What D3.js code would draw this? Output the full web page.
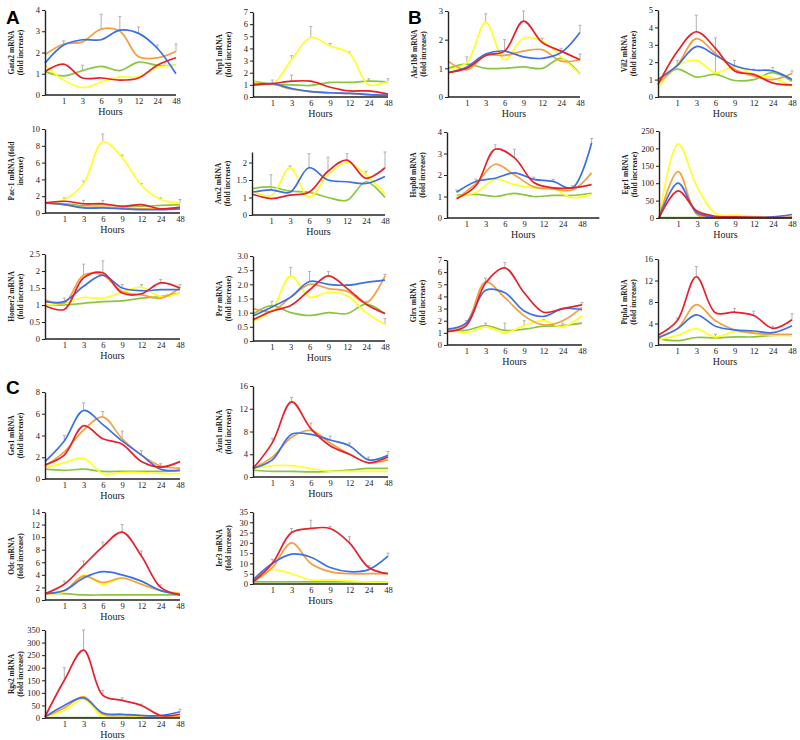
<!DOCTYPE html>
<html><head><meta charset="utf-8">
<script src="https://cdn.jsdelivr.net/npm/d3@7"></script>
<style>body{margin:0;background:#fff}svg{display:block}</style>
</head><body>
<script>
const HOURS = ["0","1","3","6","9","12","24","48"];
const COLORS = {green:"#8cc63f", yellow:"#ffff26", orange:"#f4a040", blue:"#3d6fe6", red:"#e8202a"};
const ORDER = ["green","yellow","orange","blue","red"];

// ---- data (fold increase at 0,1,3,6,9,12,24,48 h) ----
// error bars: [hour, from, to]
const gata2 = {
  green:[1.1,0.9,1.15,1.35,1.15,1.55,1.4,1.4], yellow:[1.4,0.7,0.35,0.6,0.85,0.85,1.3,1.4],
  orange:[1.9,2.4,2.5,3.1,3.0,1.8,1.75,2.05], blue:[1.5,2.35,2.6,2.6,3.05,2.9,2.2,1.0],
  red:[1.1,1.45,0.8,0.8,0.7,0.8,1.4,1.75]};
const gata2Err = [[1,2.4,2.55],[3,1.15,1.4],[6,3.1,3.8],[9,3.05,3.7],[12,2.9,3.2],[24,2.2,2.35],[48,2.05,2.4]];
const nrp1 = {
  green:[1.3,1.05,1.0,0.95,1.2,1.2,1.3,1.25], yellow:[1.3,1.05,3.1,4.9,4.2,3.6,1.0,1.3],
  orange:[1.1,1.05,0.65,0.45,0.35,0.3,0.2,0.15], blue:[1.0,1.1,0.7,0.45,0.35,0.3,0.2,0.15],
  red:[1.0,1.1,1.3,1.3,0.8,0.5,0.5,0.25]};
const nrp1Err = [[1,1.1,1.4],[3,3.1,3.4],[3,1.3,1.8],[6,4.9,5.8],[9,4.2,4.4],[12,3.6,3.7],[24,1.3,1.5],[48,1.3,1.5]];
const akr1b8 = {
  green:[1.0,1.15,1.0,1.0,1.05,1.0,1.35,0.8], yellow:[0.95,1.2,2.6,1.3,2.05,1.95,1.4,0.8],
  orange:[1.25,0.95,1.45,1.45,1.6,1.65,1.25,1.3], blue:[0.85,1.05,1.5,1.6,1.4,1.35,1.55,2.25],
  red:[0.85,1.0,1.45,1.6,2.65,1.9,1.6,1.3]};
const akr1b8Err = [[1,1.2,1.4],[3,2.6,2.9],[6,1.6,2.0],[9,2.65,3.0],[12,1.95,2.05],[24,1.55,1.7],[48,2.25,2.5],[48,1.3,1.5]];
const vil2 = {
  green:[1.0,1.6,1.15,1.3,0.95,1.0,1.4,0.9], yellow:[0.5,1.8,2.1,1.4,1.75,1.3,1.1,0.6],
  orange:[0.8,1.8,3.35,2.5,1.6,1.2,1.0,1.35], blue:[1.0,1.8,2.9,2.4,1.8,1.55,1.5,1.0],
  red:[0.7,2.6,3.75,2.8,1.5,1.3,0.8,0.7]};
const vil2Err = [[1,1.8,2.1],[3,3.75,4.7],[6,1.4,3.4],[9,1.8,2.1],[12,1.55,1.6],[24,1.5,1.7],[48,1.35,1.5]];
const pac1 = {
  green:[1.2,1.1,0.9,1.0,0.8,0.8,0.9,1.0], yellow:[1.2,1.6,3.5,8.5,6.6,3.3,1.6,1.2],
  orange:[1.2,1.0,0.7,0.7,0.6,0.5,0.5,0.6], blue:[1.2,1.0,0.6,0.6,0.5,0.4,0.4,0.5],
  red:[1.2,1.4,1.1,1.1,0.8,1.0,0.5,0.7]};
const pac1Err = [[1,1.6,1.8],[3,3.5,3.8],[3,1.1,1.5],[6,8.5,9.4],[6,1.1,1.5],[9,6.6,6.9],[12,3.3,3.5],[24,1.6,1.8],[48,1.2,1.6]];
const anx2 = {
  green:[1.25,1.3,1.18,1.15,1.0,0.92,1.45,1.0], yellow:[1.2,1.05,1.85,1.0,1.65,2.0,1.65,1.1],
  blue:[1.15,1.22,1.15,1.85,1.5,1.45,1.4,1.6], red:[1.1,0.97,1.07,1.15,1.75,2.07,1.55,1.85]};
const anx2Err = [[1,1.22,1.65],[3,1.85,1.9],[6,1.85,2.25],[9,1.75,2.15],[12,2.07,2.25],[24,1.65,1.75],[48,1.85,2.3]];
const hspb8 = {
  green:[1.05,1.1,1.0,1.15,1.0,1.05,1.05,1.15], yellow:[1.0,1.2,1.8,1.55,1.4,1.35,0.95,1.1],
  orange:[0.9,1.6,2.5,2.0,1.45,1.35,1.3,2.1], blue:[1.2,1.7,1.85,2.1,1.8,1.7,1.4,3.5],
  red:[0.9,1.5,3.2,2.8,1.65,1.4,1.4,1.55]};
const hspb8Err = [[0,1.2,1.3],[1,1.7,1.8],[3,3.2,3.4],[6,2.8,3.2],[9,1.8,1.9],[12,1.7,1.8],[24,1.4,1.5],[48,3.5,3.7]];
const egr1 = {
  green:[1,1,1,1,1,1,1,1], yellow:[0,213,90,12,8,5,2,0],
  orange:[0,133,10,0,0,0,0,0], blue:[0,100,15,3,2,2,3,10],
  red:[0,78,20,5,3,2,1,2]};
const egr1Err = [];
const homer2 = {
  green:[1.0,1.0,1.05,1.1,1.12,1.2,1.25,1.35], yellow:[1.0,1.05,1.22,1.2,1.38,1.52,1.25,1.35],
  orange:[1.15,1.05,1.88,1.88,1.4,1.3,1.2,1.5], blue:[1.1,1.1,1.55,1.88,1.5,1.42,1.45,1.45],
  red:[0.98,0.87,1.8,1.95,1.35,1.33,1.65,1.5]};
const homer2Err = [[1,1.1,1.2],[3,1.88,2.2],[6,1.95,2.3],[9,1.5,1.6],[12,1.52,1.6],[24,1.65,1.75],[48,1.5,1.6]];
const per = {
  green:[0.95,1.25,1.0,0.9,1.0,0.97,1.3,0.95], yellow:[0.7,1.1,2.3,1.55,1.72,1.6,1.0,0.58],
  orange:[1.15,1.05,1.55,2.0,1.85,1.75,1.35,2.3], blue:[0.88,1.2,1.55,2.1,2.0,1.97,2.07,2.15],
  red:[0.75,1.05,1.25,1.8,2.3,1.85,1.3,0.97]};
const perErr = [[1,1.25,1.4],[3,2.3,2.6],[6,2.1,2.45],[9,2.3,2.45],[12,1.97,2.0],[24,1.35,1.4],[48,2.3,2.35],[48,0.58,0.8]];
const glrx = {
  green:[1.2,1.2,1.6,1.2,1.3,1.55,1.6,1.8], yellow:[1.4,1.0,1.5,1.0,1.6,2.0,1.5,2.4],
  orange:[1.2,1.8,5.2,3.9,2.4,1.65,2.0,3.1], blue:[1.3,1.8,4.5,4.3,2.8,2.35,3.0,2.9],
  red:[1.1,1.6,5.1,6.35,4.3,2.7,3.0,3.3]};
const glrxErr = [[1,1.8,2.0],[3,5.2,5.5],[3,1.6,1.8],[6,6.35,6.8],[6,1.2,1.8],[9,1.6,2.0],[12,2.0,2.1],[24,1.6,1.8],[48,3.3,3.5]];
const ptpla1 = {
  green:[1.2,0.8,1.4,1.3,1.5,1.5,1.8,1.8], yellow:[1.0,1.8,3.0,1.5,2.5,2.2,1.8,1.8],
  orange:[1.5,3.0,7.5,4.5,2.8,2.2,2.0,2.0], blue:[1.3,3.0,5.6,3.5,2.8,2.6,2.3,3.6],
  red:[1.8,4.5,12.7,6.0,6.1,5.5,3.1,4.7]};
const ptpla1Err = [[1,4.5,5.0],[3,12.7,14.6],[6,1.5,2.0],[9,6.1,6.8],[12,5.5,6.3],[24,3.1,3.5],[48,4.7,5.8]];
const ges1 = {
  green:[0.9,0.8,0.9,0.7,0.7,0.7,0.7,0.8], yellow:[1.0,1.5,1.9,0.5,0.6,0.6,0.5,0.5],
  orange:[1.2,2.5,4.5,5.7,3.7,2.2,1.2,1.0], blue:[1.6,3.5,6.3,5.0,3.5,2.2,0.9,0.8],
  red:[1.3,2.2,4.9,3.7,3.2,1.6,1.1,1.6]};
const ges1Err = [[1,3.5,4.0],[3,6.3,7.0],[6,5.7,6.2],[9,3.7,4.4],[12,2.2,2.6],[24,1.2,1.4]];
const azin1 = {
  green:[1.2,1.0,1.0,0.9,1.0,1.2,1.5,1.5], yellow:[1.5,2.0,2.0,1.5,1.0,1.0,1.0,1.0],
  orange:[1.5,3.5,7.0,8.2,6.0,4.0,2.5,3.0], blue:[1.5,3.0,7.5,7.5,6.5,5.5,3.0,3.8],
  red:[1.5,6.0,13.2,8.5,5.5,4.0,2.5,3.5]};
const azin1Err = [[1,6.0,6.8],[3,13.2,14.0],[6,8.5,9.5],[9,6.5,7.2],[12,5.5,6.0],[24,3.0,3.5],[48,3.8,4.5]];
const odc = {
  green:[1.0,1.0,0.8,0.8,0.8,0.8,0.8,0.8], yellow:[1.0,1.3,4.0,2.5,3.5,2.5,1.5,1.0],
  orange:[1.0,1.5,3.8,2.8,3.5,2.5,1.5,1.0], blue:[1.0,1.5,3.5,4.5,4.0,3.0,1.5,0.9],
  red:[1.0,2.5,5.5,8.5,10.8,7.0,2.0,0.8]};
const odcErr = [[1,2.5,3.0],[3,5.5,6.2],[6,8.5,9.2],[9,10.8,12.0],[12,7.0,7.8],[24,2.0,2.4]];
const ier3 = {
  green:[1,1,1,1,1,1,1,1], yellow:[2,7,5,2,2,1.5,1,1],
  orange:[1,8,20,10,6,5,5,5], blue:[2,10,14.5,13,8,6,7,13.5],
  red:[1,10,25,27,27,20,8,5]};
const ier3Err = [[1,10,12],[3,25,27],[6,27,31],[9,27,28],[12,20,23],[24,8,9],[48,13.5,15]];
const rgs2 = {
  green:[2,2,2,2,2,2,2,2], yellow:[5,30,75,5,5,5,3,3],
  orange:[5,40,85,15,10,10,5,5], blue:[5,50,80,20,15,10,10,25],
  red:[5,150,270,90,70,50,10,15]};
const rgs2Err = [[1,150,200],[3,270,350],[6,90,110],[9,70,80],[12,50,55],[48,25,35]];

// tick values / labels
const t0to4 = [0,1,2,3,4], t0to7=[0,1,2,3,4,5,6,7], t0to3=[0,1,2,3], t0to5=[0,1,2,3,4,5];
const tPac1 = [0,2,4,6,8,10], tAnx2 = [0.5,1,1.5,2], tAnx2Labels = ["0","1","1.5","2"];
const tEgr1 = [0,50,100,150,200,250], tHomer2=[0,0.5,1,1.5,2,2.5];
const tPer = [0,0.5,1,1.5,2,2.5,3], tPerLabels = ["0","0.5","1.0","1.5","2.0","2.5","3.0"];
const t0to16 = [0,4,8,12,16], tGes1=[0,2,4,6,8], tOdc=[0,2,4,6,8,10,12,14];
const tIer3 = [0,5,10,15,20,25,30,35], tRgs2=[0,50,100,150,200,250,300,350];

// ---- layout ----
const panels = [
 {name:"Gata2 mRNA", l2:"(fold increase)", d:gata2, e:gata2Err, t:t0to4, ax:45, top:10, bot:95, xe:176, hy:110},
 {name:"Nrp1 mRNA", l2:"(fold increase)", d:nrp1, e:nrp1Err, t:t0to7, ax:253, top:12, bot:97, xe:388, hy:112},
 {name:"Akr1b8 mRNA", l2:"(fold increase)", d:akr1b8, e:akr1b8Err, t:t0to3, ax:448, top:11, bot:97, xe:580, hy:112},
 {name:"Vil2 mRNA", l2:"(fold increase)", d:vil2, e:vil2Err, t:t0to5, ax:658, top:10, bot:97, xe:792, hy:110},
 {name:"Pac-1 mRNA (fold", l2:"increase)", d:pac1, e:pac1Err, t:tPac1, ax:45, top:129, bot:213, xe:180, hy:228},
 {name:"Anx2 mRNA", l2:"(fold increase)", d:anx2, e:anx2Err, t:tAnx2, tl:tAnx2Labels, ymin:0.5, ymax:2.3, ax:252, top:152, bot:215, xe:385, hy:225},
 {name:"Hspb8 mRNA", l2:"(fold increase)", d:hspb8, e:hspb8Err, t:t0to4, ax:447, top:132, bot:218, xe:582, hy:233, shift:true},
 {name:"Egr1 mRNA", l2:"(fold increase)", d:egr1, e:egr1Err, t:tEgr1, ax:659, top:131, bot:218, xe:792, hy:233},
 {name:"Homer2 mRNA", l2:"(fold increase)", d:homer2, e:homer2Err, t:tHomer2, ax:45, top:254, bot:339, xe:180, hy:353},
 {name:"Per mRNA", l2:"(fold increase)", d:per, e:perErr, t:tPer, tl:tPerLabels, ax:253, top:256, bot:341, xe:385, hy:356},
 {name:"Glrx mRNA", l2:"(fold increase)", d:glrx, e:glrxErr, t:t0to7, ax:447, top:260, bot:345, xe:582, hy:358},
 {name:"Ptpla1 mRNA", l2:"(fold increase)", d:ptpla1, e:ptpla1Err, t:t0to16, ax:658, top:259, bot:345, xe:792, hy:357},
 {name:"Ges1 mRNA", l2:"(fold increase)", d:ges1, e:ges1Err, t:tGes1, ax:45, top:392, bot:479, xe:180, hy:495},
 {name:"Azin1 mRNA", l2:"(fold increase)", d:azin1, e:azin1Err, t:t0to16, ax:253, top:386, bot:477, xe:388, hy:492},
 {name:"Odc mRNA", l2:"(fold increase)", d:odc, e:odcErr, t:tOdc, ax:45, top:512, bot:600, xe:180, hy:614},
 {name:"Ier3 mRNA", l2:"(fold increase)", d:ier3, e:ier3Err, t:tIer3, ax:253, top:512, bot:584, xe:388, hy:598},
 {name:"Rgs2 mRNA", l2:"(fold increase)", d:rgs2, e:rgs2Err, t:tRgs2, ax:45, top:630, bot:718, xe:180, hy:733}
];

const svg = d3.select("body").append("svg").attr("width",800).attr("height",740)
  .style("font-family","'Liberation Serif','Times New Roman',serif");

[["A",6,24],["B",408,24],["C",6,394]].forEach(([t,x,y])=>{
  svg.append("text").attr("x",x).attr("y",y).text(t)
    .style("font-family","'Liberation Sans',Arial,sans-serif").style("font-weight","bold").style("font-size","19px");
});

panels.forEach(p=>{
  const g = svg.append("g");
  const step = (p.xe - p.ax)/(HOURS.length-1);
  const xLab = d3.scalePoint().domain(HOURS).range([p.ax, p.xe]);
  const xDat = p.shift ? d3.scalePoint().domain(HOURS).range([p.ax+step/2, p.xe+step/2]) : xLab;
  const ymin = p.ymin ?? p.t[0], ymax = p.ymax ?? p.t[p.t.length-1];
  const y = d3.scaleLinear().domain([ymin, ymax]).range([p.bot, p.top]);
  const axisEnd = p.shift ? p.xe + step*0.9 : p.xe;

  // error bars
  p.e.forEach(([h,lo,hi])=>{
    const x = xDat(String(h));
    g.append("line").attr("x1",x).attr("x2",x).attr("y1",y(lo)).attr("y2",y(hi))
      .attr("stroke","#b0b0b0").attr("stroke-width",1);
    g.append("line").attr("x1",x-1.5).attr("x2",x+1.5).attr("y1",y(hi)).attr("y2",y(hi))
      .attr("stroke","#b0b0b0").attr("stroke-width",1);
  });

  const line = d3.line().x((d,i)=>xDat(HOURS[i])).y(d=>y(d)).curve(d3.curveCatmullRom.alpha(0.5));
  ORDER.forEach(k=>{
    if(!p.d[k]) return;
    g.append("path").attr("d", line(p.d[k])).attr("fill","none")
      .attr("stroke",COLORS[k]).attr("stroke-width",1.7).attr("stroke-linejoin","round");
  });

  // y axis
  const ya = g.append("g").attr("transform",`translate(${p.ax},0)`)
    .call(d3.axisLeft(y).tickValues(p.t).tickSizeInner(3).tickSizeOuter(0).tickPadding(2)
      .tickFormat((d,i)=> p.tl ? p.tl[i] : String(d)));
  ya.select(".domain").attr("stroke","#222").attr("stroke-width",1.4);
  ya.selectAll(".tick line").attr("stroke","#222");
  ya.selectAll("text").style("font-family","'Liberation Serif',serif").style("font-size","8.5px").attr("fill","#222");

  // x axis
  const xa = g.append("g").attr("transform",`translate(0,${p.bot})`)
    .call(d3.axisBottom(xLab).tickValues(HOURS.slice(1)).tickSize(0).tickPadding(3));
  xa.select(".domain").remove();
  xa.append("line").attr("x1",p.ax).attr("x2",axisEnd).attr("y1",0).attr("y2",0)
    .attr("stroke","#222").attr("stroke-width",1.4);
  xa.selectAll("text").style("font-family","'Liberation Serif',serif").style("font-size","8.5px").attr("fill","#222");

  g.append("text").attr("x",(p.ax+axisEnd)/2).attr("y",Math.max(p.hy + 4, p.bot + 20)).attr("text-anchor","middle")
    .style("font-size","10px").attr("fill","#222").text("Hours");

  const yc = (p.top+p.bot)/2;
  g.append("text").attr("transform",`translate(${p.ax-31},${yc}) rotate(-90)`).attr("text-anchor","middle")
    .style("font-size","7.5px").style("font-weight","bold").attr("fill","#222").text(p.name);
  g.append("text").attr("transform",`translate(${p.ax-22},${yc}) rotate(-90)`).attr("text-anchor","middle")
    .style("font-size","7.5px").style("font-weight","bold").attr("fill","#222").text(p.l2);
});
</script>
</body></html>
